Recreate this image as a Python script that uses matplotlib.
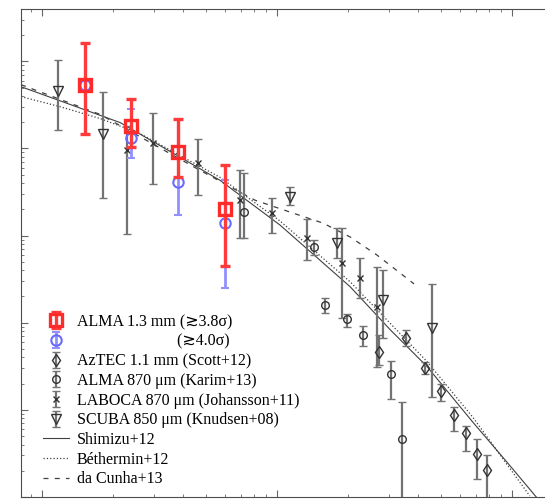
import matplotlib.pyplot as plt

plt.rcParams['font.family'] = ['Liberation Serif', 'DejaVu Sans']

# ALMA 1.3 mm cumulative counts, >=3.8 sigma sources
alma_s = [0.152, 0.239, 0.379, 0.601]
alma_n = [5.3e4, 1.83e4, 9.0e3, 2.01e3]
alma_hi = [1.63e5, 3.73e4, 2.2e4, 6.39e3]
alma_lo = [1.45e4, 1.05e4, 4.66e3, 448]

# same fields, >=4.0 sigma sources
alma4_n = [5.3e4, 1.30e4, 4.09e3, 1.39e3]
alma4_hi = [1.63e5, 2.87e4, 1.03e4, 4.31e3]
alma4_lo = [1.45e4, 7.69e3, 1.71e3, 251]

# AzTEC 1.1 mm (Scott+12), scaled to 1.3 mm
aztec_s = [2.72, 3.54, 4.26, 4.99, 5.67, 6.37, 7.10, 7.83]
aztec_n = [46.6, 67.4, 30.6, 16.3, 8.65, 5.39, 3.10, 2.04]
aztec_hi = [72.9, 83.2, 35.8, 19.6, 10.7, 6.47, 4.60, 3.02]
aztec_lo = [33.1, 54.6, 25.5, 12.5, 5.68, 3.36, 1.61, 0.73]

# ALMA 870 um (Karim+13)
karim_s = [0.724, 1.437, 1.60, 1.99, 2.32, 3.06, 3.40]
karim_n = [1.86e3, 739, 161, 111, 72.9, 25.5, 4.6]
karim_hi = [5.18e3, 880, 193, 127, 92.5, 36.8, 12.2]
karim_lo = [936, 600, 130, 90, 54.6, 13.2, 0.5]

# LABOCA 870 um (Johansson+11)
laboca_s = [0.230, 0.297, 0.461, 0.696, 0.952, 1.342, 1.89, 2.26, 2.66]
laboca_n = [9.49e3, 1.14e4, 6.74e3, 2.55e3, 1.81e3, 936, 485, 327, 152]
laboca_hi = [1.83e4, 2.58e4, 1.27e4, 5.61e3, 2.68e3, 1.54e3, 1.22e3, 553, 436]
laboca_lo = [1.04e3, 3.88e3, 2.90e3, 936, 1.07e3, 525, 114, 193, 31.4]

# SCUBA 850 um (Knudsen+08)
scuba_s = [0.117, 0.182, 1.136, 1.80, 2.83, 4.57]
scuba_n = [4.6e4, 1.48e4, 2.75e3, 820, 183, 87.7]
scuba_hi = [1.04e5, 4.48e4, 3.58e3, 1.22e3, 403, 279]
scuba_lo = [1.61e4, 2.68e3, 2.23e3, 553, 67.4, 13.9]

# model predictions
shimizu_s = [0.0814, 0.215, 0.572, 1.03, 2.05, 3.03, 4.35, 6.82, 9.52, 13.2]
shimizu_n = [5.11e4, 1.98e4, 4.31e3, 1.32e3, 258, 83.2, 31.4, 7.2, 2.51, 0.88]

bethermin_s = [0.0814, 0.119, 0.177, 0.261, 0.572, 1.03, 2.05, 4.35, 6.82, 11.9]
bethermin_n = [3.93e4, 3.02e4, 2.20e4, 1.48e4, 4.66e3, 1.47e3, 294, 35.8, 8.2, 1.03]

dacunha_s = [0.0814, 0.177, 0.470, 0.805, 1.136, 1.57, 2.05, 2.66, 3.83]
dacunha_n = [5.39e4, 2.45e4, 5.61e3, 2.55e3, 1.86e3, 1.39e3, 962, 599, 279]


def yerr(n, lo, hi):
    return [[a - b for a, b in zip(n, lo)], [c - a for a, c in zip(n, hi)]]


fig = plt.figure(figsize=(5.45, 4.99), dpi=100)
ax = fig.add_axes([21 / 545, 2 / 499, (559 - 21) / 545, 488 / 499])
ax.set_xscale('log')
ax.set_yscale('log')
ax.set_xlim(10 ** -1.0894, 10 ** 1.2)
ax.set_ylim(1, 10 ** 5.6)

l_shi, = ax.plot(shimizu_s, shimizu_n, '-', color='0.25', lw=0.8, zorder=1)
l_bet, = ax.plot(bethermin_s, bethermin_n, ':', color='0.25', lw=0.9, zorder=1)
l_dac, = ax.plot(dacunha_s, dacunha_n, '--', color='0.25', lw=0.9,
                 dashes=(4, 5), zorder=1)

blk = dict(ls='none', color='0.35', ecolor='0.45', elinewidth=1.6, capsize=3,
           mec='0.2', mfc='none', mew=1.0, zorder=2)
e_az = ax.errorbar(aztec_s, aztec_n, yerr=yerr(aztec_n, aztec_lo, aztec_hi),
                   marker='d', ms=6, **blk)
e_ka = ax.errorbar(karim_s, karim_n, yerr=yerr(karim_n, karim_lo, karim_hi),
                   marker='o', ms=5.5, **blk)
e_la = ax.errorbar(laboca_s, laboca_n, yerr=yerr(laboca_n, laboca_lo, laboca_hi),
                   marker='x', ms=5, **blk)
e_sc = ax.errorbar(scuba_s, scuba_n, yerr=yerr(scuba_n, scuba_lo, scuba_hi),
                   marker='v', ms=6.5, **blk)

e_b = ax.errorbar(alma_s, alma4_n, yerr=yerr(alma4_n, alma4_lo, alma4_hi),
                  ls='none', marker='o', ms=7.5, mfc='none', mec='#6a6aff', mew=1.5,
                  ecolor='#9090ff', elinewidth=2, capsize=3, zorder=3)
e_r = ax.errorbar(alma_s, alma_n, yerr=yerr(alma_n, alma_lo, alma_hi),
                  ls='none', marker='s', ms=8.5, mfc='none', mec='#ff2a2a', mew=2.4,
                  ecolor='#ff3a3a', elinewidth=2.4, capsize=3.5, capthick=2, zorder=4)

ax.tick_params(which='both', direction='in', top=True, right=True,
               labelleft=False, labelbottom=False, color='0.4')
ax.tick_params(which='major', length=5, width=0.8)
ax.tick_params(which='minor', length=2.5, width=0.6)
for sp in ax.spines.values():
    sp.set_color('0.3')
    sp.set_linewidth(0.8)

handles = [e_r, e_b, e_az, e_ka, e_la, e_sc, l_shi, l_bet, l_dac]
labels = ['ALMA 1.3 mm (≳3.8σ)',
          '                         (≳4.0σ)',
          'AzTEC 1.1 mm (Scott+12)',
          'ALMA 870 μm (Karim+13)',
          'LABOCA 870 μm (Johansson+11)',
          'SCUBA 850 μm (Knudsen+08)',
          'Shimizu+12',
          'Béthermin+12',
          'da Cunha+13']
ax.legend(handles, labels, loc='upper left', bbox_to_anchor=(43 / 545, 1 - 314 / 499),
          bbox_transform=fig.transFigure, frameon=False, fontsize=11.5,
          handlelength=1.65, handletextpad=0.45, labelspacing=0.23, borderpad=0,
          borderaxespad=0)

fig.savefig('out.png', dpi=100)
